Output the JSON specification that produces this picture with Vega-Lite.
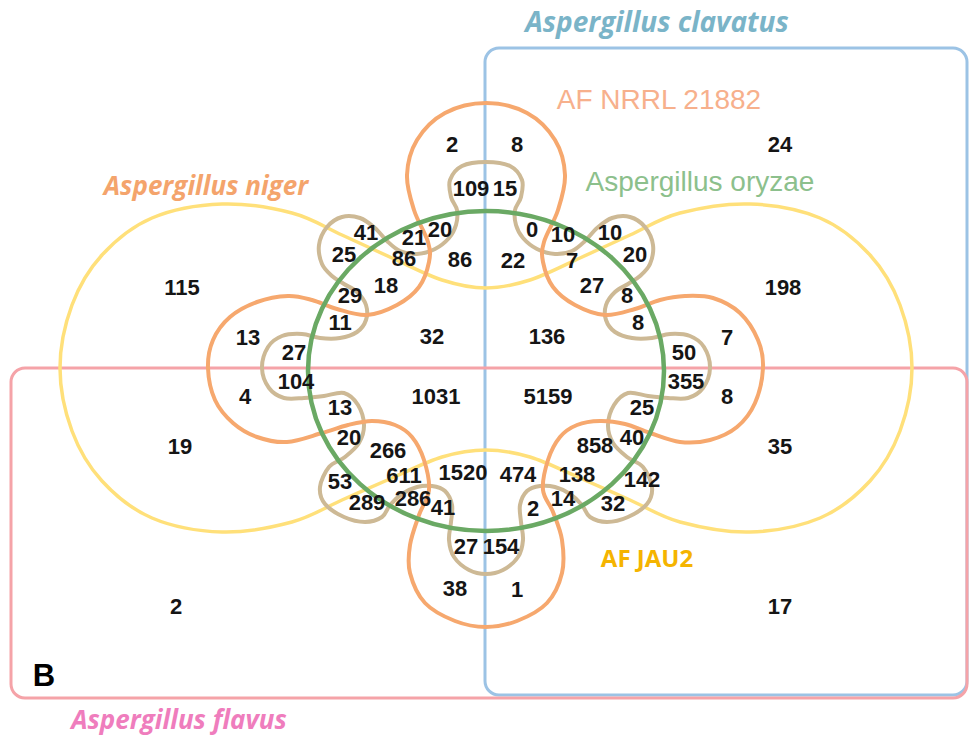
{
  "$schema": "https://vega.github.io/schema/vega-lite/v6.json",
  "width": 969,
  "height": 736,
  "autosize": "none",
  "padding": 0,
  "background": "white",
  "config": {"view": {"stroke": null}},
  "datasets": {
    "rects": [
      {"set": "Aspergillus clavatus", "x": 485, "x2": 967, "y": 48, "y2": 695},
      {"set": "Aspergillus flavus", "x": 11, "x2": 967, "y": 368, "y2": 698}
    ],
    "green": [{"set": "Aspergillus oryzae", "x": 486, "y": 371}],
    "yellow": [
      {"i": 1, "x": 486, "y": 288}, {"i": 2, "x": 530, "y": 280}, {"i": 3, "x": 580, "y": 258}, {"i": 4, "x": 630, "y": 235},
      {"i": 5, "x": 680, "y": 213}, {"i": 6, "x": 750, "y": 204}, {"i": 7, "x": 820, "y": 218}, {"i": 8, "x": 870, "y": 255},
      {"i": 9, "x": 900, "y": 305}, {"i": 10, "x": 912, "y": 368}, {"i": 11, "x": 900, "y": 431}, {"i": 12, "x": 870, "y": 481},
      {"i": 13, "x": 820, "y": 518}, {"i": 14, "x": 750, "y": 532}, {"i": 15, "x": 680, "y": 522}, {"i": 16, "x": 630, "y": 500},
      {"i": 17, "x": 580, "y": 478}, {"i": 18, "x": 530, "y": 457}, {"i": 19, "x": 486, "y": 450}, {"i": 20, "x": 442, "y": 457},
      {"i": 21, "x": 392, "y": 478}, {"i": 22, "x": 342, "y": 500}, {"i": 23, "x": 292, "y": 522}, {"i": 24, "x": 222, "y": 532},
      {"i": 25, "x": 152, "y": 518}, {"i": 26, "x": 102, "y": 481}, {"i": 27, "x": 72, "y": 431}, {"i": 28, "x": 60, "y": 368},
      {"i": 29, "x": 72, "y": 305}, {"i": 30, "x": 102, "y": 255}, {"i": 31, "x": 152, "y": 218}, {"i": 32, "x": 222, "y": 204},
      {"i": 33, "x": 292, "y": 213}, {"i": 34, "x": 342, "y": 235}, {"i": 35, "x": 392, "y": 258}, {"i": 36, "x": 442, "y": 280}
    ],
    "orange": [
      {"i": 1, "x": 486, "y": 103}, {"i": 2, "x": 527, "y": 113}, {"i": 3, "x": 555, "y": 140}, {"i": 4, "x": 565, "y": 175},
      {"i": 5, "x": 558, "y": 210}, {"i": 6, "x": 544, "y": 242}, {"i": 7, "x": 543, "y": 262}, {"i": 8, "x": 553, "y": 287},
      {"i": 9, "x": 575, "y": 305}, {"i": 10, "x": 605, "y": 315}, {"i": 11, "x": 635, "y": 309}, {"i": 12, "x": 660, "y": 300},
      {"i": 13, "x": 685, "y": 296}, {"i": 14, "x": 713, "y": 298}, {"i": 15, "x": 740, "y": 313}, {"i": 16, "x": 758, "y": 340},
      {"i": 17, "x": 763, "y": 368}, {"i": 18, "x": 755, "y": 403}, {"i": 19, "x": 737, "y": 427}, {"i": 20, "x": 710, "y": 440},
      {"i": 21, "x": 680, "y": 442}, {"i": 22, "x": 650, "y": 433}, {"i": 23, "x": 625, "y": 424}, {"i": 24, "x": 600, "y": 421},
      {"i": 25, "x": 577, "y": 425}, {"i": 26, "x": 560, "y": 437}, {"i": 27, "x": 548, "y": 460}, {"i": 28, "x": 543, "y": 490},
      {"i": 29, "x": 553, "y": 512}, {"i": 30, "x": 562, "y": 540}, {"i": 31, "x": 562, "y": 573}, {"i": 32, "x": 547, "y": 603},
      {"i": 33, "x": 517, "y": 621}, {"i": 34, "x": 486, "y": 627}, {"i": 35, "x": 455, "y": 621}, {"i": 36, "x": 425, "y": 603},
      {"i": 37, "x": 410, "y": 573}, {"i": 38, "x": 410, "y": 545}, {"i": 39, "x": 419, "y": 515}, {"i": 40, "x": 429, "y": 490},
      {"i": 41, "x": 424, "y": 460}, {"i": 42, "x": 412, "y": 437}, {"i": 43, "x": 395, "y": 425}, {"i": 44, "x": 372, "y": 421},
      {"i": 45, "x": 348, "y": 425}, {"i": 46, "x": 322, "y": 433}, {"i": 47, "x": 287, "y": 442}, {"i": 48, "x": 257, "y": 437},
      {"i": 49, "x": 233, "y": 423}, {"i": 50, "x": 215, "y": 400}, {"i": 51, "x": 208, "y": 368}, {"i": 52, "x": 213, "y": 340},
      {"i": 53, "x": 230, "y": 317}, {"i": 54, "x": 257, "y": 302}, {"i": 55, "x": 288, "y": 296}, {"i": 56, "x": 312, "y": 300},
      {"i": 57, "x": 337, "y": 309}, {"i": 58, "x": 367, "y": 315}, {"i": 59, "x": 397, "y": 305}, {"i": 60, "x": 419, "y": 287},
      {"i": 61, "x": 429, "y": 262}, {"i": 62, "x": 428, "y": 242}, {"i": 63, "x": 414, "y": 210}, {"i": 64, "x": 407, "y": 175},
      {"i": 65, "x": 417, "y": 140}, {"i": 66, "x": 445, "y": 113}
    ],
    "brown": [
      {"i": 1, "x": 486, "y": 162}, {"i": 2, "x": 510, "y": 166}, {"i": 3, "x": 522, "y": 180}, {"i": 4, "x": 521, "y": 197},
      {"i": 5, "x": 515, "y": 210}, {"i": 6, "x": 516, "y": 225}, {"i": 7, "x": 523, "y": 238}, {"i": 8, "x": 537, "y": 249},
      {"i": 9, "x": 555, "y": 254}, {"i": 10, "x": 572, "y": 251}, {"i": 11, "x": 585, "y": 241}, {"i": 12, "x": 597, "y": 228},
      {"i": 13, "x": 612, "y": 218}, {"i": 14, "x": 630, "y": 217}, {"i": 15, "x": 645, "y": 227}, {"i": 16, "x": 653, "y": 245},
      {"i": 17, "x": 650, "y": 264}, {"i": 18, "x": 640, "y": 276}, {"i": 19, "x": 628, "y": 284}, {"i": 20, "x": 615, "y": 292},
      {"i": 21, "x": 606, "y": 305}, {"i": 22, "x": 606, "y": 320}, {"i": 23, "x": 615, "y": 332}, {"i": 24, "x": 632, "y": 338},
      {"i": 25, "x": 652, "y": 338}, {"i": 26, "x": 670, "y": 334}, {"i": 27, "x": 690, "y": 336}, {"i": 28, "x": 704, "y": 347},
      {"i": 29, "x": 710, "y": 368}, {"i": 30, "x": 703, "y": 388}, {"i": 31, "x": 688, "y": 398}, {"i": 32, "x": 668, "y": 398},
      {"i": 33, "x": 648, "y": 396}, {"i": 34, "x": 628, "y": 393}, {"i": 35, "x": 614, "y": 405}, {"i": 36, "x": 608, "y": 425},
      {"i": 37, "x": 613, "y": 443}, {"i": 38, "x": 627, "y": 457}, {"i": 39, "x": 643, "y": 467}, {"i": 40, "x": 652, "y": 487},
      {"i": 41, "x": 647, "y": 504}, {"i": 42, "x": 628, "y": 517}, {"i": 43, "x": 607, "y": 522}, {"i": 44, "x": 590, "y": 517},
      {"i": 45, "x": 582, "y": 505}, {"i": 46, "x": 570, "y": 494}, {"i": 47, "x": 555, "y": 487}, {"i": 48, "x": 540, "y": 486},
      {"i": 49, "x": 527, "y": 491}, {"i": 50, "x": 520, "y": 505}, {"i": 51, "x": 521, "y": 522}, {"i": 52, "x": 523, "y": 540},
      {"i": 53, "x": 518, "y": 557}, {"i": 54, "x": 503, "y": 570}, {"i": 55, "x": 486, "y": 574}, {"i": 56, "x": 469, "y": 570},
      {"i": 57, "x": 454, "y": 557}, {"i": 58, "x": 449, "y": 540}, {"i": 59, "x": 451, "y": 522}, {"i": 60, "x": 452, "y": 505},
      {"i": 61, "x": 445, "y": 491}, {"i": 62, "x": 432, "y": 486}, {"i": 63, "x": 417, "y": 487}, {"i": 64, "x": 402, "y": 494},
      {"i": 65, "x": 390, "y": 505}, {"i": 66, "x": 382, "y": 517}, {"i": 67, "x": 365, "y": 522}, {"i": 68, "x": 344, "y": 517},
      {"i": 69, "x": 325, "y": 504}, {"i": 70, "x": 320, "y": 487}, {"i": 71, "x": 329, "y": 467}, {"i": 72, "x": 345, "y": 457},
      {"i": 73, "x": 359, "y": 443}, {"i": 74, "x": 364, "y": 425}, {"i": 75, "x": 358, "y": 405}, {"i": 76, "x": 344, "y": 393},
      {"i": 77, "x": 324, "y": 396}, {"i": 78, "x": 304, "y": 398}, {"i": 79, "x": 284, "y": 398}, {"i": 80, "x": 269, "y": 388},
      {"i": 81, "x": 262, "y": 368}, {"i": 82, "x": 268, "y": 347}, {"i": 83, "x": 282, "y": 336}, {"i": 84, "x": 302, "y": 334},
      {"i": 85, "x": 320, "y": 338}, {"i": 86, "x": 340, "y": 338}, {"i": 87, "x": 357, "y": 332}, {"i": 88, "x": 366, "y": 320},
      {"i": 89, "x": 366, "y": 305}, {"i": 90, "x": 357, "y": 292}, {"i": 91, "x": 344, "y": 284}, {"i": 92, "x": 332, "y": 276},
      {"i": 93, "x": 322, "y": 264}, {"i": 94, "x": 319, "y": 245}, {"i": 95, "x": 327, "y": 227}, {"i": 96, "x": 342, "y": 217},
      {"i": 97, "x": 360, "y": 218}, {"i": 98, "x": 375, "y": 228}, {"i": 99, "x": 387, "y": 241}, {"i": 100, "x": 400, "y": 251},
      {"i": 101, "x": 417, "y": 254}, {"i": 102, "x": 435, "y": 249}, {"i": 103, "x": 449, "y": 238}, {"i": 104, "x": 456, "y": 225},
      {"i": 105, "x": 457, "y": 210}, {"i": 106, "x": 451, "y": 197}, {"i": 107, "x": 450, "y": 180}, {"i": 108, "x": 462, "y": 166}
    ],
    "counts": [
      {"n": "2", "x": 452, "y": 145}, {"n": "8", "x": 517, "y": 145}, {"n": "24", "x": 780, "y": 145},
      {"n": "109", "x": 471, "y": 189}, {"n": "15", "x": 505, "y": 189},
      {"n": "41", "x": 366, "y": 233}, {"n": "21", "x": 414, "y": 238}, {"n": "20", "x": 440, "y": 230}, {"n": "25", "x": 344, "y": 255},
      {"n": "86", "x": 404, "y": 259}, {"n": "86", "x": 460, "y": 260}, {"n": "0", "x": 532, "y": 230}, {"n": "10", "x": 563, "y": 235},
      {"n": "10", "x": 610, "y": 233}, {"n": "7", "x": 572, "y": 261}, {"n": "20", "x": 635, "y": 255}, {"n": "22", "x": 513, "y": 261},
      {"n": "115", "x": 182, "y": 288}, {"n": "198", "x": 783, "y": 288}, {"n": "29", "x": 350, "y": 296}, {"n": "18", "x": 386, "y": 286},
      {"n": "27", "x": 592, "y": 286}, {"n": "8", "x": 627, "y": 296},
      {"n": "11", "x": 340, "y": 323}, {"n": "32", "x": 432, "y": 337}, {"n": "136", "x": 547, "y": 337}, {"n": "8", "x": 638, "y": 323},
      {"n": "13", "x": 248, "y": 338}, {"n": "27", "x": 294, "y": 353}, {"n": "7", "x": 727, "y": 338}, {"n": "50", "x": 684, "y": 353},
      {"n": "104", "x": 296, "y": 382}, {"n": "4", "x": 245, "y": 397}, {"n": "1031", "x": 436, "y": 397}, {"n": "5159", "x": 548, "y": 397},
      {"n": "355", "x": 686, "y": 382}, {"n": "8", "x": 727, "y": 397},
      {"n": "13", "x": 340, "y": 408}, {"n": "25", "x": 642, "y": 408},
      {"n": "19", "x": 180, "y": 447}, {"n": "20", "x": 349, "y": 438}, {"n": "266", "x": 388, "y": 451}, {"n": "858", "x": 595, "y": 446},
      {"n": "40", "x": 632, "y": 438}, {"n": "35", "x": 780, "y": 447},
      {"n": "53", "x": 340, "y": 482}, {"n": "611", "x": 404, "y": 476}, {"n": "1520", "x": 463, "y": 473}, {"n": "474", "x": 518, "y": 475},
      {"n": "138", "x": 577, "y": 475}, {"n": "142", "x": 642, "y": 480},
      {"n": "289", "x": 367, "y": 503}, {"n": "286", "x": 413, "y": 499}, {"n": "41", "x": 443, "y": 508}, {"n": "2", "x": 533, "y": 509},
      {"n": "14", "x": 563, "y": 499}, {"n": "32", "x": 613, "y": 504},
      {"n": "27", "x": 466, "y": 547}, {"n": "154", "x": 501, "y": 547},
      {"n": "38", "x": 455, "y": 589}, {"n": "1", "x": 517, "y": 590},
      {"n": "2", "x": 176, "y": 607}, {"n": "17", "x": 780, "y": 607}
    ],
    "labels": [
      {"text": "Aspergillus clavatus", "x": 657, "y": 24},
      {"text": "AF NRRL 21882", "x": 659, "y": 101},
      {"text": "Aspergillus oryzae", "x": 700, "y": 183},
      {"text": "Aspergillus niger", "x": 206, "y": 187},
      {"text": "AF JAU2", "x": 647, "y": 560},
      {"text": "Aspergillus flavus", "x": 179, "y": 721},
      {"text": "B", "x": 44, "y": 677}
    ]
  },
  "encoding": {
    "x": {"field": "x", "type": "quantitative", "scale": {"domain": [0, 969], "nice": false, "zero": false}, "axis": null},
    "y": {"field": "y", "type": "quantitative", "scale": {"domain": [0, 736], "nice": false, "zero": false, "reverse": true}, "axis": null}
  },
  "layer": [
    {
      "data": {"name": "rects"},
      "mark": {"type": "rect", "filled": false, "strokeWidth": 3, "cornerRadius": 14},
      "encoding": {
        "x2": {"field": "x2"},
        "y2": {"field": "y2"},
        "color": {"field": "set", "type": "nominal", "legend": null,
          "scale": {"domain": ["Aspergillus clavatus", "Aspergillus flavus"], "range": ["#9cc3e5", "#f5a3a8"]}}
      }
    },
    {
      "data": {"name": "yellow"},
      "mark": {"type": "line", "interpolate": "cardinal-closed", "strokeWidth": 3.5, "color": "#ffe07a"},
      "encoding": {"order": {"field": "i", "type": "quantitative"}}
    },
    {
      "data": {"name": "brown"},
      "mark": {"type": "line", "interpolate": "cardinal-closed", "strokeWidth": 4, "color": "#cdb995"},
      "encoding": {"order": {"field": "i", "type": "quantitative"}}
    },
    {
      "data": {"name": "orange"},
      "mark": {"type": "line", "interpolate": "cardinal-closed", "strokeWidth": 4, "color": "#f6a86e"},
      "encoding": {"order": {"field": "i", "type": "quantitative"}}
    },
    {
      "data": {"name": "green"},
      "mark": {"type": "point", "filled": false, "opacity": 1, "strokeWidth": 4.5, "color": "#6aa964", "size": 126736,
        "shape": "M1,0 C1,0.4965 0.5523,0.8989 0,0.8989 C-0.5523,0.8989 -1,0.4965 -1,0 C-1,-0.4965 -0.5523,-0.8989 0,-0.8989 C0.5523,-0.8989 1,-0.4965 1,0 Z"},
      "encoding": {}
    },
    {
      "data": {"name": "counts"},
      "mark": {"type": "text", "font": "Liberation Sans", "fontWeight": "bold", "fontSize": 22, "color": "#151515", "align": "center", "baseline": "middle"},
      "encoding": {"text": {"field": "n", "type": "nominal"}}
    },
    {
      "data": {"name": "labels"},
      "transform": [{"filter": "datum.text === 'Aspergillus clavatus'"}],
      "mark": {"type": "text", "font": "Open Sans", "fontWeight": "bold", "fontStyle": "italic", "fontSize": 28, "color": "#7ab4c8", "align": "center", "baseline": "middle"},
      "encoding": {"text": {"field": "text", "type": "nominal"}}
    },
    {
      "data": {"name": "labels"},
      "transform": [{"filter": "datum.text === 'AF NRRL 21882'"}],
      "mark": {"type": "text", "font": "Liberation Sans", "fontSize": 28, "color": "#f7b08c", "align": "center", "baseline": "middle"},
      "encoding": {"text": {"field": "text", "type": "nominal"}}
    },
    {
      "data": {"name": "labels"},
      "transform": [{"filter": "datum.text === 'Aspergillus oryzae'"}],
      "mark": {"type": "text", "font": "Liberation Sans", "fontSize": 28, "color": "#8cc08c", "align": "center", "baseline": "middle"},
      "encoding": {"text": {"field": "text", "type": "nominal"}}
    },
    {
      "data": {"name": "labels"},
      "transform": [{"filter": "datum.text === 'Aspergillus niger'"}],
      "mark": {"type": "text", "font": "Open Sans", "fontWeight": "bold", "fontStyle": "italic", "fontSize": 26, "color": "#f4a46c", "align": "center", "baseline": "middle"},
      "encoding": {"text": {"field": "text", "type": "nominal"}}
    },
    {
      "data": {"name": "labels"},
      "transform": [{"filter": "datum.text === 'AF JAU2'"}],
      "mark": {"type": "text", "font": "Open Sans", "fontWeight": "bold", "fontSize": 24, "color": "#f5b400", "align": "center", "baseline": "middle"},
      "encoding": {"text": {"field": "text", "type": "nominal"}}
    },
    {
      "data": {"name": "labels"},
      "transform": [{"filter": "datum.text === 'Aspergillus flavus'"}],
      "mark": {"type": "text", "font": "Open Sans", "fontWeight": "bold", "fontStyle": "italic", "fontSize": 26, "color": "#ef7dbd", "align": "center", "baseline": "middle"},
      "encoding": {"text": {"field": "text", "type": "nominal"}}
    },
    {
      "data": {"name": "labels"},
      "transform": [{"filter": "datum.text === 'B'"}],
      "mark": {"type": "text", "font": "Liberation Sans", "fontWeight": "bold", "fontSize": 31, "color": "#000000", "align": "center", "baseline": "middle"},
      "encoding": {"text": {"field": "text", "type": "nominal"}}
    }
  ]
}
